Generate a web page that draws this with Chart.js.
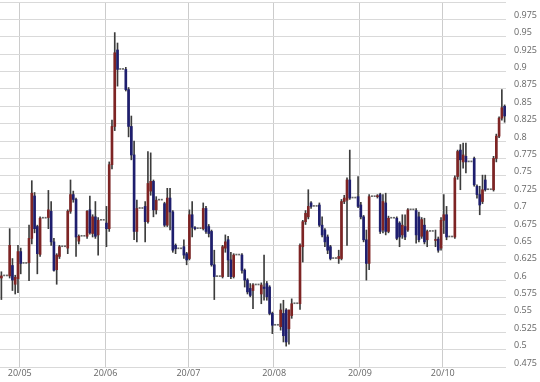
<!DOCTYPE html>
<html>
<head>
<meta charset="utf-8">
<script src="https://cdn.jsdelivr.net/npm/chart.js@4.4.0/dist/chart.umd.min.js"></script>
<style>
  body { margin: 0; background: #fff; }
  #wrap { width: 540px; height: 382px; }
</style>
</head>
<body>
<div id="wrap"><canvas id="myChartPrice"></canvas></div>
<script>
// Daily candles 2020/04/24 - 2020/10/23, one line per week (Sat..Fri), weekends flat
const opens = [
  0.603,
  0.606, 0.606, 0.606, 0.621, 0.594, 0.602, 0.641,
  0.624, 0.624, 0.625, 0.660, 0.721, 0.677, 0.637,
  0.689, 0.689, 0.690, 0.699, 0.655, 0.615, 0.634,
  0.648, 0.648, 0.646, 0.699, 0.723, 0.716, 0.656,
  0.663, 0.663, 0.663, 0.701, 0.667, 0.691, 0.665,
  0.686, 0.686, 0.682, 0.674, 0.766, 0.821, 0.931,
  0.903, 0.903, 0.903, 0.874, 0.821, 0.780, 0.670,
  0.703, 0.703, 0.706, 0.684, 0.728, 0.742, 0.701,
  0.715, 0.715, 0.710, 0.679, 0.718, 0.698, 0.650,
  0.645, 0.645, 0.648, 0.638, 0.631, 0.694, 0.675,
  0.674, 0.674, 0.674, 0.703, 0.677, 0.670, 0.622,
  0.605, 0.605, 0.605, 0.646, 0.658, 0.629, 0.605,
  0.636, 0.636, 0.636, 0.614, 0.600, 0.588, 0.585,
  0.593, 0.593, 0.580, 0.590, 0.595, 0.590, 0.552,
  0.535, 0.535, 0.533, 0.552, 0.557, 0.530, 0.549,
  0.566, 0.566, 0.566, 0.648, 0.684, 0.691, 0.711,
  0.706, 0.706, 0.708, 0.679, 0.672, 0.662, 0.648,
  0.631, 0.631, 0.631, 0.631, 0.713, 0.715, 0.744,
  0.718, 0.718, 0.720, 0.708, 0.691, 0.658, 0.624,
  0.720, 0.720, 0.720, 0.723, 0.672, 0.711, 0.670,
  0.689, 0.689, 0.689, 0.682, 0.665, 0.677, 0.672,
  0.701, 0.701, 0.700, 0.691, 0.663, 0.679, 0.658,
  0.670, 0.670, 0.657, 0.659, 0.646, 0.686, 0.694,
  0.662, 0.662, 0.662, 0.749, 0.787, 0.770, 0.778,
  0.770, 0.770, 0.775, 0.735, 0.723, 0.713, 0.744,
  0.730, 0.730, 0.730, 0.775, 0.807, 0.833, 0.850
];
const highs = [
  0.612,
  0.606, 0.606, 0.674, 0.631, 0.607, 0.650, 0.646,
  0.624, 0.624, 0.679, 0.743, 0.726, 0.679, 0.691,
  0.689, 0.689, 0.729, 0.713, 0.660, 0.638, 0.650,
  0.648, 0.648, 0.701, 0.744, 0.728, 0.718, 0.665,
  0.663, 0.663, 0.700, 0.721, 0.694, 0.713, 0.690,
  0.686, 0.686, 0.706, 0.770, 0.830, 0.956, 0.941,
  0.903, 0.903, 0.906, 0.877, 0.836, 0.800, 0.715,
  0.703, 0.703, 0.713, 0.785, 0.783, 0.744, 0.720,
  0.715, 0.715, 0.712, 0.732, 0.732, 0.700, 0.652,
  0.645, 0.645, 0.658, 0.640, 0.701, 0.713, 0.677,
  0.674, 0.674, 0.711, 0.706, 0.680, 0.672, 0.643,
  0.605, 0.605, 0.650, 0.665, 0.663, 0.640, 0.638,
  0.636, 0.636, 0.638, 0.616, 0.602, 0.595, 0.595,
  0.593, 0.593, 0.596, 0.636, 0.598, 0.592, 0.554,
  0.535, 0.535, 0.566, 0.571, 0.559, 0.557, 0.573,
  0.566, 0.566, 0.652, 0.686, 0.700, 0.730, 0.713,
  0.706, 0.706, 0.711, 0.691, 0.674, 0.665, 0.650,
  0.631, 0.631, 0.643, 0.716, 0.722, 0.747, 0.787,
  0.718, 0.718, 0.749, 0.712, 0.693, 0.672, 0.723,
  0.720, 0.720, 0.723, 0.725, 0.723, 0.725, 0.692,
  0.689, 0.689, 0.691, 0.684, 0.694, 0.694, 0.703,
  0.701, 0.701, 0.703, 0.698, 0.690, 0.689, 0.672,
  0.670, 0.670, 0.672, 0.662, 0.690, 0.723, 0.706,
  0.662, 0.662, 0.750, 0.787, 0.795, 0.797, 0.797,
  0.770, 0.770, 0.777, 0.737, 0.735, 0.751, 0.751,
  0.730, 0.730, 0.778, 0.810, 0.835, 0.874, 0.852
];
const lows = [
  0.572,
  0.606, 0.606, 0.603, 0.585, 0.580, 0.582, 0.609,
  0.624, 0.624, 0.599, 0.652, 0.668, 0.609, 0.634,
  0.689, 0.689, 0.674, 0.650, 0.613, 0.594, 0.631,
  0.648, 0.648, 0.638, 0.696, 0.712, 0.634, 0.652,
  0.663, 0.663, 0.660, 0.666, 0.662, 0.660, 0.636,
  0.686, 0.686, 0.648, 0.670, 0.760, 0.815, 0.879,
  0.903, 0.903, 0.872, 0.806, 0.773, 0.658, 0.655,
  0.703, 0.703, 0.655, 0.682, 0.722, 0.691, 0.695,
  0.715, 0.715, 0.677, 0.677, 0.672, 0.640, 0.638,
  0.645, 0.645, 0.631, 0.622, 0.629, 0.662, 0.672,
  0.674, 0.674, 0.672, 0.667, 0.662, 0.620, 0.572,
  0.605, 0.605, 0.603, 0.640, 0.605, 0.602, 0.603,
  0.636, 0.636, 0.610, 0.590, 0.580, 0.576, 0.559,
  0.593, 0.593, 0.566, 0.571, 0.571, 0.550, 0.523,
  0.535, 0.535, 0.528, 0.511, 0.505, 0.508, 0.545,
  0.566, 0.566, 0.558, 0.626, 0.680, 0.688, 0.703,
  0.706, 0.706, 0.677, 0.662, 0.648, 0.638, 0.629,
  0.631, 0.631, 0.624, 0.629, 0.710, 0.650, 0.716,
  0.718, 0.718, 0.704, 0.688, 0.655, 0.600, 0.615,
  0.720, 0.720, 0.718, 0.667, 0.668, 0.665, 0.668,
  0.689, 0.689, 0.658, 0.648, 0.660, 0.658, 0.670,
  0.701, 0.701, 0.653, 0.655, 0.660, 0.652, 0.648,
  0.670, 0.670, 0.648, 0.640, 0.643, 0.667, 0.658,
  0.662, 0.662, 0.660, 0.745, 0.730, 0.761, 0.754,
  0.770, 0.770, 0.735, 0.718, 0.694, 0.710, 0.728,
  0.730, 0.730, 0.728, 0.770, 0.805, 0.830, 0.827
];
const closes = [
  0.606,
  0.606, 0.606, 0.650, 0.600, 0.604, 0.641, 0.624,
  0.624, 0.624, 0.660, 0.725, 0.674, 0.638, 0.689,
  0.689, 0.689, 0.701, 0.655, 0.614, 0.636, 0.648,
  0.648, 0.648, 0.699, 0.723, 0.716, 0.662, 0.663,
  0.663, 0.663, 0.699, 0.668, 0.691, 0.663, 0.686,
  0.686, 0.686, 0.674, 0.766, 0.821, 0.927, 0.903,
  0.903, 0.903, 0.874, 0.821, 0.780, 0.670, 0.703,
  0.703, 0.703, 0.684, 0.739, 0.742, 0.701, 0.715,
  0.715, 0.715, 0.679, 0.718, 0.698, 0.643, 0.645,
  0.645, 0.645, 0.636, 0.629, 0.694, 0.676, 0.674,
  0.674, 0.674, 0.703, 0.670, 0.667, 0.622, 0.605,
  0.605, 0.605, 0.648, 0.655, 0.629, 0.605, 0.636,
  0.636, 0.636, 0.614, 0.600, 0.583, 0.578, 0.593,
  0.593, 0.593, 0.593, 0.588, 0.576, 0.552, 0.535,
  0.535, 0.535, 0.557, 0.520, 0.511, 0.557, 0.566,
  0.566, 0.566, 0.650, 0.684, 0.696, 0.706, 0.706,
  0.706, 0.706, 0.679, 0.665, 0.655, 0.643, 0.631,
  0.631, 0.631, 0.634, 0.713, 0.718, 0.744, 0.718,
  0.718, 0.718, 0.706, 0.691, 0.658, 0.624, 0.720,
  0.720, 0.720, 0.721, 0.670, 0.713, 0.670, 0.689,
  0.689, 0.689, 0.660, 0.662, 0.679, 0.662, 0.701,
  0.701, 0.701, 0.665, 0.658, 0.687, 0.655, 0.670,
  0.670, 0.670, 0.658, 0.643, 0.686, 0.694, 0.662,
  0.662, 0.662, 0.747, 0.785, 0.773, 0.780, 0.770,
  0.770, 0.770, 0.737, 0.723, 0.708, 0.730, 0.730,
  0.730, 0.730, 0.775, 0.807, 0.833, 0.848, 0.836
];

const upColor = '#7e2424';
const downColor = '#1e1e6e';
const wickColor = '#3c3c3c';
const flatColor = '#666666';

// date labels yy/mm/dd, one per calendar day
const labelsDay = [];
for (let i = 0; i < closes.length; i++) {
    const d = new Date(2020, 3, 24 + i);
    const yy = String(d.getFullYear()).slice(2);
    const mm = String(d.getMonth() + 1).padStart(2, '0');
    const dd = String(d.getDate()).padStart(2, '0');
    labelsDay.push(yy + '/' + mm + '/' + dd);
}

function isMonthStart(i) {
    return labelsDay[i] !== undefined && labelsDay[i].endsWith('/01');
}
function isFlat(i) {
    return highs[i] === lows[i];
}

const data = {
    labels: labelsDay,
    datasets: [{
        // candle bodies (open -> close)
        label: 'body',
        data: opens.map((o, i) => isFlat(i) ? null : [o, closes[i]]),
        backgroundColor: closes.map((c, i) => c >= opens[i] ? upColor : downColor),
        barThickness: 2,
        minBarLength: 1,
        grouped: false,
        order: 0
    }, {
        // days without trading range, drawn as a short dash
        label: 'flat',
        data: closes.map((c, i) => isFlat(i) ? [c, c] : null),
        backgroundColor: flatColor,
        barThickness: 1.4,
        minBarLength: 1,
        grouped: false,
        order: 1
    }, {
        // wicks (low -> high)
        label: 'wick',
        data: lows.map((l, i) => isFlat(i) ? null : [l, highs[i]]),
        backgroundColor: wickColor,
        barThickness: 1,
        grouped: false,
        order: 2
    }]
};

const axisFont = { family: 'Open Sans', size: 9 };

const config = {
    type: 'bar',
    data,
    options: {
        responsive: true,
        maintainAspectRatio: false,
        animation: false,
        layout: { padding: { top: 2, right: 0, left: 0, bottom: 2 } },
        plugins: {
            legend: { display: false },
            tooltip: { enabled: false }
        },
        scales: {
            x: {
                offset: true,
                grid: {
                    offset: true,
                    drawTicks: false,
                    color: ctx => isMonthStart(ctx.index) ? '#cccccc' : 'rgba(0,0,0,0)'
                },
                border: { display: false },
                ticks: {
                    autoSkip: false,
                    maxRotation: 0,
                    padding: 1,
                    labelOffset: -1,
                    color: '#666',
                    font: axisFont,
                    callback: (v, i) => isMonthStart(i) ? labelsDay[i].slice(0, 5) : ''
                },
                afterFit: scale => {
                    scale.paddingLeft = 0;
                    scale.paddingRight = 0;
                    scale.height = 13;
                }
            },
            y: {
                position: 'right',
                min: 0.475,
                max: 1.0,
                grid: { color: '#d9d9d9', drawTicks: false },
                border: { display: false },
                ticks: {
                    stepSize: 0.025,
                    padding: 8,
                    labelOffset: -4,
                    color: '#666',
                    font: axisFont,
                    callback: v => v >= 0.999 ? '' : String(Number(v.toFixed(3)))
                },
                afterFit: scale => {
                    scale.paddingTop = 0;
                    scale.paddingBottom = 0;
                    scale.width = 34;
                }
            }
        }
    }
};

let myChartPrice = new Chart(document.getElementById('myChartPrice'), config);
</script>
</body>
</html>
